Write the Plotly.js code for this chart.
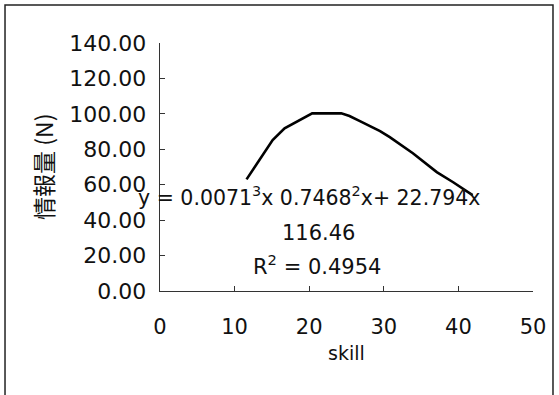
<!DOCTYPE html>
<html>
<head>
<meta charset="utf-8">
<script src="https://cdn.plot.ly/plotly-3.0.1.min.js"></script>
<style>
  html, body { margin: 0; padding: 0; background: #fff; }
  #chart { width: 559px; height: 395px; }
</style>
</head>
<body>
<div id="chart"></div>
<script>
// Data
const skill = [11.6, 13.8, 15.1, 16.7, 18.3, 20.4, 24.3, 25.4, 26.8, 29.5, 30.8, 33.9, 37.1, 39.3, 41.9];
const info  = [63.0, 76.7, 85.2, 91.8, 95.5, 100.3, 100.3, 98.8, 95.9, 90.3, 86.9, 77.8, 67.1, 61.4, 54.1];

const xTicks = [0, 10, 20, 30, 40, 50];
const yTicks = [0, 20, 40, 60, 80, 100, 120, 140];

const xTitle = 'skill';
const yTitle = '情報量 (N)';
const eqLine1 = 'y = 0.0071<sup>3</sup>x 0.7468<sup>2</sup>x+ 22.794x';
const eqLine2 = '116.46';
const eqLine3 = 'R<sup>2</sup> = 0.4954';

const FONT = '"DejaVu Sans", "Noto Sans CJK JP", sans-serif';
const CJK = '"Noto Sans CJK JP", "DejaVu Sans", sans-serif';
const INK = '#111';

const trace = {
  x: skill,
  y: info,
  type: 'scatter',
  mode: 'lines',
  line: { color: '#000', width: 2.6, shape: 'linear' },
  hoverinfo: 'skip',
  showlegend: false
};

const layout = {
  width: 559,
  height: 395,
  margin: { l: 160, r: 26, t: 43, b: 104, pad: 0 },
  paper_bgcolor: '#fff',
  plot_bgcolor: '#fff',
  font: { family: FONT, color: INK, size: 22 },
  showlegend: false,
  xaxis: {
    range: [0, 50],
    tickmode: 'array',
    tickvals: xTicks,
    ticktext: xTicks.map(String),
    ticks: 'inside',
    ticklen: 5,
    tickwidth: 1.2,
    tickcolor: '#333',
    showline: true,
    linecolor: '#333',
    linewidth: 1.4,
    showgrid: false,
    zeroline: false,
    ticklabelstandoff: 16,
    tickfont: { family: FONT, size: 21, color: INK }
  },
  yaxis: {
    range: [0, 140],
    tickmode: 'array',
    tickvals: yTicks,
    ticktext: yTicks.map(v => v.toFixed(2)),
    ticks: 'inside',
    ticklen: 5,
    tickwidth: 1.2,
    tickcolor: '#333',
    showline: true,
    linecolor: '#333',
    linewidth: 1.4,
    showgrid: false,
    zeroline: false,
    ticklabelstandoff: 8,
    tickfont: { family: FONT, size: 22, color: INK }
  },
  annotations: [
    { text: eqLine1, xref: 'x', yref: 'y', x: 20.0, y: 53.2, showarrow: false,
      xanchor: 'center', yanchor: 'middle', font: { family: FONT, size: 20.5, color: INK } },
    { text: eqLine2, xref: 'x', yref: 'y', x: 21.2, y: 32.7, showarrow: false,
      xanchor: 'center', yanchor: 'middle', font: { family: FONT, size: 21, color: INK } },
    { text: eqLine3, xref: 'x', yref: 'y', x: 21.0, y: 14.6, showarrow: false,
      xanchor: 'center', yanchor: 'middle', font: { family: FONT, size: 21, color: INK } },
    { text: xTitle, xref: 'paper', yref: 'paper', x: 0.5, y: -0.25, showarrow: false,
      xanchor: 'center', yanchor: 'middle', font: { family: FONT, size: 19, color: INK } },
    { text: yTitle, xref: 'paper', yref: 'paper', x: -0.314, y: 0.5, showarrow: false,
      textangle: -90, xanchor: 'center', yanchor: 'middle', font: { family: CJK, size: 23, color: INK } }
  ],
  shapes: [
    { type: 'rect', xref: 'paper', yref: 'paper', x0: -0.4155, x1: 1.0536, y0: -0.45, y1: 1.153,
      line: { color: '#222', width: 1.5 }, fillcolor: 'rgba(0,0,0,0)', layer: 'below' }
  ]
};

Plotly.newPlot('chart', [trace], layout, { staticPlot: true, displayModeBar: false });
</script>
</body>
</html>
